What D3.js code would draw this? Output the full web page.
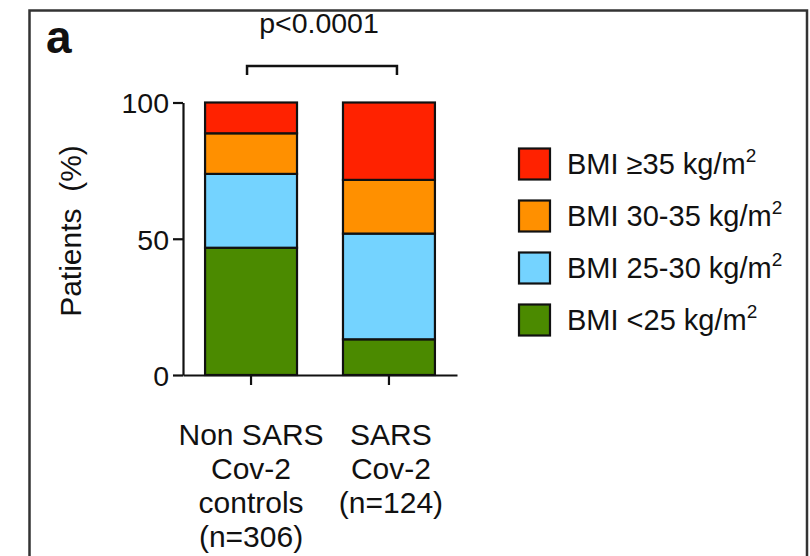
<!DOCTYPE html>
<html>
<head>
<meta charset="utf-8">
<script src="https://cdn.jsdelivr.net/npm/d3@7"></script>
<style>
  html, body { margin: 0; padding: 0; background: #fff; }
  svg { display: block; font-family: "Liberation Sans", Arial, Helvetica, sans-serif; }
</style>
</head>
<body>
<svg id="chart" width="810" height="556"></svg>
<script>
// ---- data ----
const categories = ["Non SARS Cov-2 controls (n=306)", "SARS Cov-2 (n=124)"];
const categoryLines = [["Non SARS", "Cov-2", "controls", "(n=306)"], ["SARS", "Cov-2", "(n=124)"]];
const seriesKeys = ["lt25", "b25_30", "b30_35", "ge35"];
const seriesLabels = ["BMI <25 kg/m", "BMI 25-30 kg/m", "BMI 30-35 kg/m", "BMI \u226535 kg/m"];
const seriesColors = ["#4B8A00", "#74D3FF", "#FF9000", "#FF2200"];
const bmiLt25 = [46.7, 13.1];
const bmi25to30 = [27.1, 38.8];
const bmi30to35 = [14.9, 19.7];
const bmiGe35 = [11.3, 28.4];
const yTicks = [0, 50, 100];
const pValueText = "p<0.0001";
const panelLetter = "a";
const yLabel = "Patients\u00a0\u00a0(%)";

const rows = categories.map((c, i) => ({
  cat: c, lt25: bmiLt25[i], b25_30: bmi25to30[i], b30_35: bmi30to35[i], ge35: bmiGe35[i]
}));

const svg = d3.select("#chart");
const FS = 28;

// frame
svg.append("path")
  .attr("d", "M29.5,560 L29.5,10.5 L807,10.5 L807,560")
  .attr("fill", "none").attr("stroke", "#333").attr("stroke-width", 2.5);

const x = d3.scaleBand().domain(categories).range([183, 457])
  .paddingInner(1 / 3).paddingOuter(0.16);
const y = d3.scaleLinear().domain([0, 100]).range([375, 102.5]);

const stack = d3.stack().keys(seriesKeys)(rows);

// bars
svg.append("g").selectAll("g").data(stack).join("g")
  .attr("fill", (d, i) => seriesColors[i])
  .selectAll("rect").data(d => d).join("rect")
  .attr("x", d => x(d.data.cat))
  .attr("width", x.bandwidth())
  .attr("y", d => y(d[1]))
  .attr("height", d => y(d[0]) - y(d[1]))
  .attr("stroke", "#111").attr("stroke-width", 2.2);

// y axis
const yAxis = svg.append("g").attr("transform", "translate(183,0)")
  .call(d3.axisLeft(y).tickValues(yTicks).tickSize(10).tickSizeOuter(0).tickPadding(4));
yAxis.select(".domain").attr("stroke", "#111").attr("stroke-width", 2.2);
yAxis.selectAll(".tick line").attr("stroke", "#111").attr("stroke-width", 2.2);
yAxis.selectAll(".tick text").attr("font-size", 28.5).attr("fill", "#111")
  .attr("font-family", "Liberation Sans, Arial, sans-serif").attr("dy", "0.36em");

// x axis
const xAxis = svg.append("g").attr("transform", "translate(0,375)")
  .call(d3.axisBottom(x).tickSize(10).tickSizeOuter(0).tickFormat(""));
xAxis.select(".domain").attr("stroke", "#111").attr("stroke-width", 2.2);
xAxis.selectAll(".tick line").attr("stroke", "#111").attr("stroke-width", 2.2);

// multi-line category labels
categories.forEach((c, i) => {
  const t = svg.append("text")
    .attr("text-anchor", "middle")
    .attr("font-size", 30).attr("fill", "#111");
  categoryLines[i].forEach((line, j) => {
    t.append("tspan")
      .attr("x", x(c) + x.bandwidth() / 2 + (i === 1 ? 2 : 0))
      .attr("y", 445 + j * 34)
      .text(line);
  });
});

// y label
svg.append("text")
  .attr("transform", "translate(81,231) rotate(-90)")
  .attr("text-anchor", "middle")
  .attr("font-size", 30).attr("fill", "#111")
  .text(yLabel);

// panel letter
svg.append("text")
  .attr("x", 46).attr("y", 53)
  .attr("font-size", 46).attr("font-weight", "bold").attr("fill", "#111")
  .text(panelLetter);

// significance bracket
const bx1 = x(categories[0]) + x.bandwidth() / 2 - 4;
const bx2 = x(categories[1]) + x.bandwidth() / 2 + 8;
svg.append("path")
  .attr("d", `M${bx1},75 L${bx1},66 L${bx2},66 L${bx2},75`)
  .attr("fill", "none").attr("stroke", "#111").attr("stroke-width", 2.5);
svg.append("text")
  .attr("x", (bx1 + bx2) / 2 - 3).attr("y", 33)
  .attr("text-anchor", "middle")
  .attr("font-size", 28.5).attr("fill", "#111")
  .text(pValueText);

// legend (top item = last series)
const legendOrder = [3, 2, 1, 0];
const lg = svg.append("g");
legendOrder.forEach((si, k) => {
  const cy = 164 + k * 52;
  lg.append("rect")
    .attr("x", 519).attr("y", cy - 15.5)
    .attr("width", 31).attr("height", 31)
    .attr("fill", seriesColors[si])
    .attr("stroke", "#111").attr("stroke-width", 2.2);
  const t = lg.append("text")
    .attr("x", 567).attr("y", cy + 10)
    .attr("font-size", 29).attr("fill", "#111");
  t.append("tspan").text(seriesLabels[si]);
  t.append("tspan").attr("font-size", 19).attr("dy", -12).text("2");
});
</script>
</body>
</html>
